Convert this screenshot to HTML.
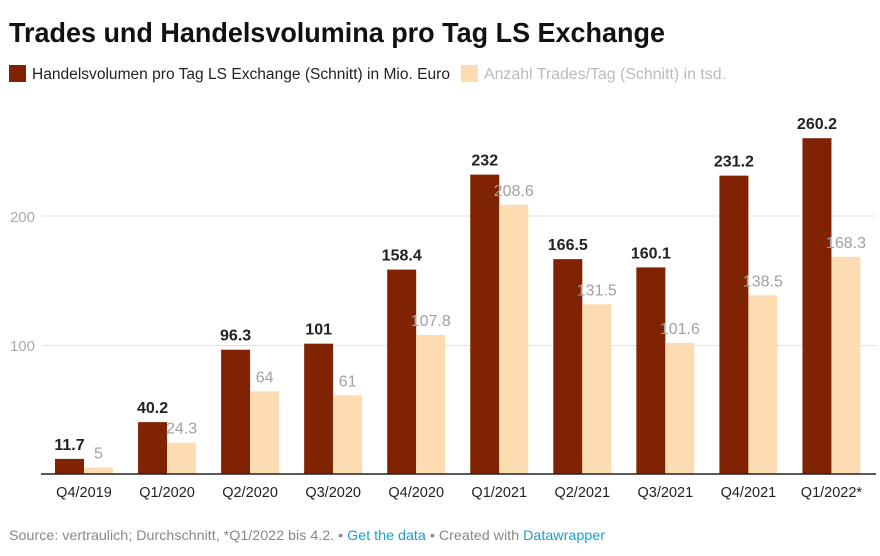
<!DOCTYPE html>
<html><head><meta charset="utf-8"><style>
body{margin:0;background:#fff;width:880px;height:551px;overflow:hidden;font-family:"Liberation Sans",sans-serif}
</style></head><body>
<svg width="880" height="551" xmlns="http://www.w3.org/2000/svg" font-family="Liberation Sans, sans-serif">
<text x="9" y="42" font-size="28" font-weight="bold" fill="#111" textLength="656" lengthAdjust="spacingAndGlyphs">Trades und Handelsvolumina pro Tag LS Exchange</text>
<rect x="9" y="65" width="17" height="17" fill="#7f2302"/>
<text x="32" y="79" font-size="15.5" fill="#222" textLength="418" lengthAdjust="spacingAndGlyphs">Handelsvolumen pro Tag LS Exchange (Schnitt) in Mio. Euro</text>
<rect x="461" y="65" width="17" height="17" fill="#fddcb1"/>
<text x="484" y="79" font-size="15.5" fill="#bbb" textLength="242" lengthAdjust="spacingAndGlyphs">Anzahl Trades/Tag (Schnitt) in tsd.</text>
<line x1="42" y1="216" x2="876" y2="216" stroke="#e3e3e3"/>
<line x1="42" y1="345.5" x2="876" y2="345.5" stroke="#e3e3e3"/>
<text x="35" y="222" font-size="15" fill="#aaa" text-anchor="end">200</text>
<text x="35" y="351" font-size="15" fill="#aaa" text-anchor="end">100</text>
<g id="bars"></g>
<line x1="41" y1="474" x2="876" y2="474" stroke="#222" stroke-width="1.5"/>
<text x="9" y="540" font-size="14" fill="#888" textLength="596" lengthAdjust="spacingAndGlyphs">Source: vertraulich; Durchschnitt, *Q1/2022 bis 4.2. • <tspan fill="#1a9fca">Get the data</tspan> • Created with <tspan fill="#1a9fca">Datawrapper</tspan></text>
</svg>
<script>
var d=[["Q4/2019",11.7,5],["Q1/2020",40.2,24.3],["Q2/2020",96.3,64],["Q3/2020",101,61],["Q4/2020",158.4,107.8],["Q1/2021",232,208.6],["Q2/2021",166.5,131.5],["Q3/2021",160.1,101.6],["Q4/2021",231.2,138.5],["Q1/2022*",260.2,168.3]];
var g=document.getElementById("bars"),s="",k=1.2905,b=474;
d.forEach(function(r,i){var x=55+i*83.05,h1=r[1]*k,h2=r[2]*k;
s+='<rect x="'+x+'" y="'+(b-h1)+'" width="29" height="'+h1+'" fill="#7f2302"/>';
s+='<rect x="'+(x+29)+'" y="'+(b-h2)+'" width="29" height="'+h2+'" fill="#fddcb1"/>';
s+='<text x="'+(x+14.5)+'" y="'+(b-h1-9)+'" font-size="16" font-weight="bold" fill="#222" text-anchor="middle">'+r[1]+'</text>';
s+='<text x="'+(x+43.5)+'" y="'+(b-h2-9)+'" font-size="16" fill="#a0a0a0" text-anchor="middle">'+r[2]+'</text>';
s+='<text x="'+(x+29)+'" y="497" font-size="14.5" fill="#222" text-anchor="middle">'+r[0]+'</text>';});
g.innerHTML=s;
</script>
</body></html>
